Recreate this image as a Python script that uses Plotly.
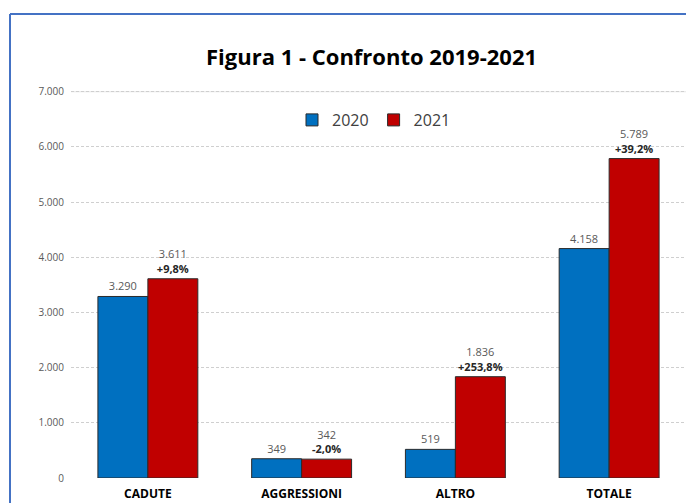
import plotly.graph_objects as go

categories = ["CADUTE", "AGGRESSIONI", "ALTRO", "TOTALE"]
values_2020 = [3290, 349, 519, 4158]
values_2021 = [3611, 342, 1836, 5789]
pct_labels = ["+9,8%", "-2,0%", "+253,8%", "+39,2%"]
tick_vals = [0, 1000, 2000, 3000, 4000, 5000, 6000, 7000]

W, H = 686, 503
YMAX = 7050
ML, MR, MT, MB = 71, 0, 89, 25
pw = W - ML - MR
ph = H - MT - MB

def px_x(px):
    return (px - ML) / pw

def px_y(py):
    return (H - MB - py) / ph

fig = go.Figure()
fig.add_trace(go.Bar(
    x=categories, y=values_2020, name="2020",
    marker=dict(color="#0070C0", line=dict(color="#2b2b2b", width=1)),
    texttemplate="%{y:,}", textposition="outside",
    textfont=dict(size=11, color="#595959", family="Open Sans"),
    cliponaxis=False,
))
fig.add_trace(go.Bar(
    x=categories, y=values_2021, name="2021",
    customdata=pct_labels,
    marker=dict(color="#C00000", line=dict(color="#2b2b2b", width=1)),
    texttemplate="%{y:,}<br><b><span style='color:#262626'>%{customdata}</span></b>",
    textposition="outside",
    textfont=dict(size=11, color="#595959", family="Open Sans"),
    cliponaxis=False,
))

border = dict(color="#4472C4", width=2)
fig.update_layout(
    width=W, height=H,
    margin=dict(l=ML, r=MR, t=MT, b=MB, autoexpand=False),
    paper_bgcolor="white", plot_bgcolor="white",
    separators=",.",
    barmode="group", bargap=0.35, bargroupgap=0,
    font=dict(family="Open Sans", color="#595959"),
    showlegend=True,
    legend=dict(orientation="h", x=px_x(374), xanchor="center",
                y=px_y(120), yanchor="middle",
                font=dict(size=16, color="#404040", family="Open Sans"),
                bgcolor="rgba(0,0,0,0)", itemwidth=30, tracegroupgap=0),
    xaxis=dict(showline=False, ticks="", automargin=False, ticklabelstandoff=7,
               tickfont=dict(size=12, color="black", family="Open Sans"),
               tickprefix="<b>", ticksuffix="</b>"),
    yaxis=dict(range=[0, YMAX], tickvals=tick_vals, tickformat=",", automargin=False,
               showgrid=True, gridcolor="#cfcfcf", griddash="3px,2px", gridwidth=1,
               zeroline=False, tickfont=dict(size=10, color="#595959", family="Open Sans"),
               ticks="", ticklen=0, ticklabelstandoff=6),
    shapes=[
        dict(type="line", xref="paper", yref="paper",
             x0=px_x(10), x1=px_x(700), y0=px_y(14), y1=px_y(14), line=border, layer="below"),
        dict(type="line", xref="paper", yref="paper",
             x0=px_x(10), x1=px_x(10), y0=px_y(14), y1=px_y(540), line=border, layer="below"),
        dict(type="line", xref="paper", yref="y",
             x0=0, x1=1, y0=tick_vals[-1], y1=tick_vals[-1],
             line=dict(color="#e6e6e6", width=1), layer="below"),
    ],
    annotations=[dict(text="<b>Figura 1 - Confronto 2019-2021</b>", xref="paper", yref="paper",
                      x=px_x(371), y=px_y(56), xanchor="center", yanchor="middle",
                      showarrow=False, font=dict(size=22, color="black", family="Open Sans"))],
)

fig.write_html("out.html",
               config={"displayModeBar": False},
               post_script=("document.body.style.margin='0';document.body.style.overflow='hidden';"
                            "document.documentElement.style.overflow='hidden';"))
